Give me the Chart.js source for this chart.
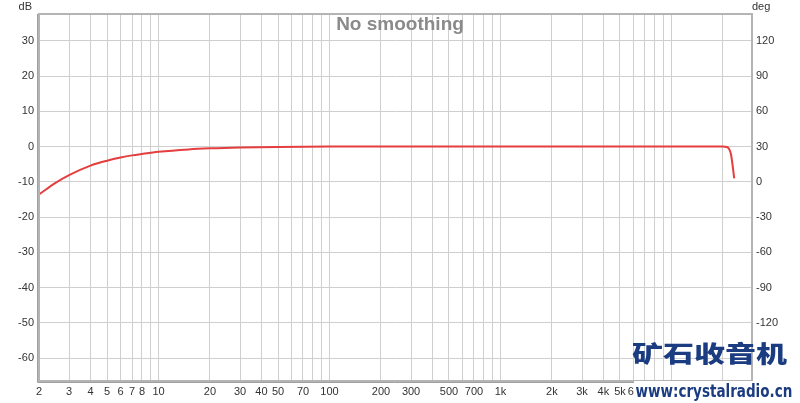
<!DOCTYPE html>
<html lang="en">
<head>
    <meta charset="UTF-8">
    <title>No smoothing</title>
    <script src="https://cdn.jsdelivr.net/npm/chart.js"></script>
    <style>
        body { margin: 0; background: #fff; }
        .wrap { position: relative; width: 800px; height: 403px; }
        .mark-cn {
            position: absolute; left: 632px; top: 338px;
            font-family: "Noto Sans CJK SC", sans-serif; font-weight: 900;
            font-size: 31px; line-height: 40px; color: #1b3c80;
            transform-origin: left top; transform: scaleY(0.74);
            white-space: nowrap;
        }
        .mark-url {
            position: absolute; left: 634px; top: 381px; height: 20px;
            background: #fff; padding: 0 2px;
            font-family: "DejaVu Sans", sans-serif; font-weight: bold;
            font-size: 18px; line-height: 20px; color: #1b3c80;
            transform-origin: left top; white-space: nowrap;
        }
    </style>
</head>
<body>
<div class="wrap">
    <canvas id="frChart" width="800" height="403"></canvas>
    <div class="mark-cn">矿石收音机</div>
    <div class="mark-url" id="url">www:crystalradio.cn</div>
</div>
<script>
    // values
    const freqs = [2, 2.5, 3, 4, 5, 6, 7, 8, 10, 15, 20, 30, 50, 100, 1000, 10000, 20000, 21100, 21700, 22300, 23300];
    const splDb = [-13.6, -10.3, -8.1, -5.4, -4.0, -3.1, -2.5, -2.1, -1.5, -0.8, -0.5, -0.25, -0.1, 0, 0, 0, 0, -0.1, -0.6, -2.2, -9.0];

    const gridFreqs = [2, 3, 4, 5, 6, 7, 8, 9,
        10, 20, 30, 40, 50, 60, 70, 80, 90,
        100, 200, 300, 400, 500, 600, 700, 800, 900,
        1000, 2000, 3000, 4000, 5000, 6000, 7000, 8000, 9000,
        10000, 20000];
    const freqLabels = {2: '2', 3: '3', 4: '4', 5: '5', 6: '6', 7: '7', 8: '8', 10: '10',
        20: '20', 30: '30', 40: '40', 50: '50', 70: '70', 100: '100',
        200: '200', 300: '300', 500: '500', 700: '700', 1000: '1k',
        2000: '2k', 3000: '3k', 4000: '4k', 5000: '5k', 6000: '6k'};
    const dbTicks = [-60, -50, -40, -30, -20, -10, 0, 10, 20, 30];
    const degTicks = [-120, -90, -60, -30, 0, 30, 60, 90, 120];

    const dbMin = -66.5, dbMax = 37.6;
    const tickFont = { family: 'Arial, "Liberation Sans", sans-serif', size: 11 };

    const overlay = {
        id: 'overlay',
        afterDraw(chart) {
            const ctx = chart.ctx;
            const a = chart.chartArea;
            ctx.save();
            ctx.strokeStyle = '#b4b4b4';
            ctx.lineWidth = 2;
            ctx.strokeRect(a.left, a.top, a.right - a.left, a.bottom - a.top);
            ctx.strokeStyle = '#a0a0a0';
            ctx.lineWidth = 1;
            ctx.beginPath();
            ctx.moveTo(a.left - 1.5, a.top);
            ctx.lineTo(a.left - 1.5, a.bottom + 1.5);
            ctx.lineTo(a.right, a.bottom + 1.5);
            ctx.stroke();

            ctx.fillStyle = '#333';
            ctx.font = '11px Arial, "Liberation Sans", sans-serif';
            ctx.textBaseline = 'top';
            ctx.textAlign = 'right';
            ctx.fillText('dB', 32, 1);
            ctx.textAlign = 'left';
            ctx.fillText('deg', 752, 1);

            ctx.fillStyle = '#8a8a8a';
            ctx.font = 'bold 19px Arial, "Liberation Sans", sans-serif';
            ctx.textAlign = 'center';
            ctx.fillText('No smoothing', 400, 15);
            ctx.restore();
        }
    };

    new Chart(document.getElementById('frChart'), {
        type: 'line',
        data: {
            datasets: [{
                data: freqs.map((f, i) => ({ x: f, y: splDb[i] })),
                borderColor: 'rgb(228, 62, 62)',
                borderWidth: 2,
                pointRadius: 0,
                cubicInterpolationMode: 'monotone',
                fill: false
            }]
        },
        options: {
            responsive: false,
            animation: false,
            layout: { padding: { top: 14, left: 0, right: 0, bottom: 0 } },
            plugins: { legend: { display: false }, tooltip: { enabled: false } },
            scales: {
                x: {
                    type: 'logarithmic',
                    min: 2,
                    max: 29600,
                    afterBuildTicks: axis => { axis.ticks = gridFreqs.map(v => ({ value: v })); },
                    afterFit: scale => { scale.height = 22; },
                    grid: { color: '#cfcfcf', drawTicks: false },
                    border: { display: false },
                    ticks: {
                        autoSkip: false, maxRotation: 0, padding: 4,
                        color: '#333', font: tickFont,
                        callback: v => freqLabels[v] || ''
                    }
                },
                y: {
                    min: dbMin,
                    max: dbMax,
                    afterBuildTicks: axis => { axis.ticks = dbTicks.map(v => ({ value: v })); },
                    afterFit: scale => { scale.width = 39; },
                    grid: { color: '#cfcfcf', drawTicks: false },
                    border: { display: false },
                    ticks: { padding: 5, color: '#333', font: tickFont }
                },
                y2: {
                    position: 'right',
                    min: 3 * dbMin + 30,
                    max: 3 * dbMax + 30,
                    afterBuildTicks: axis => { axis.ticks = degTicks.map(v => ({ value: v })); },
                    afterFit: scale => { scale.width = 48; },
                    grid: { display: false, drawTicks: false },
                    border: { display: false },
                    ticks: { padding: 4, color: '#333', font: tickFont }
                }
            }
        },
        plugins: [overlay]
    });

    // squeeze the url watermark to its width in the picture
    const url = document.getElementById('url');
    url.style.transform = 'scaleX(' + (160 / url.offsetWidth) + ')';
</script>
</body>
</html>
